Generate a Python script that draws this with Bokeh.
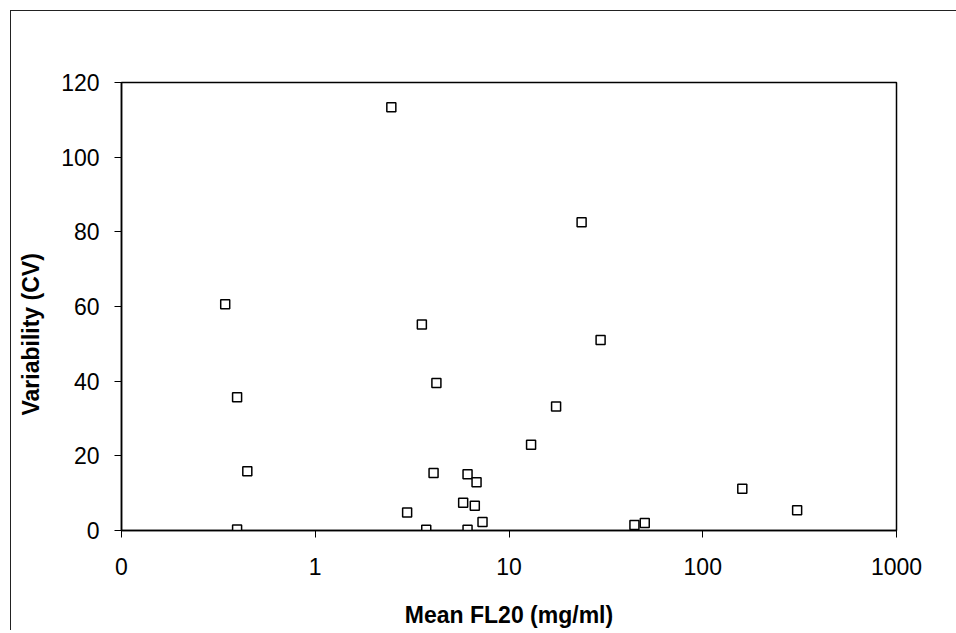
from bokeh.plotting import figure
from bokeh.models import FixedTicker, Title, ColumnDataSource
from bokeh.embed import file_html
from bokeh.resources import INLINE

# ---- data ----
mean_fl20 = [0.343, 0.395, 0.446, 0.395, 3.55, 29.7, 4.22, 17.5, 13.0, 4.08,
             6.11, 6.80, 5.80, 6.66, 2.98, 7.30, 3.74, 6.11, 2.47, 23.7,
             44.4, 50.2, 160.0, 307.0]
variability_cv = [60.6, 35.7, 15.9, 0.3, 55.2, 51.0, 39.5, 33.2, 23.0, 15.4,
                  15.1, 12.9, 7.4, 6.6, 4.8, 2.3, 0.2, 0.2, 113.4, 82.6,
                  1.5, 2.0, 11.2, 5.4]
x_ticks = [0.1, 1, 10, 100, 1000]
x_tick_labels = ["0", "1", "10", "100", "1000"]
y_ticks = [0, 20, 40, 60, 80, 100, 120]

FONT = "Liberation Sans"

source = ColumnDataSource(dict(x=mean_fl20, y=variability_cv))

p = figure(x_axis_type="log", x_range=(0.1, 1000), y_range=(0, 120),
           frame_width=775, frame_height=448,
           min_border_left=121, min_border_top=82, min_border_right=60, min_border_bottom=60,
           output_backend="svg", toolbar_location=None,
           background_fill_color="white", border_fill_color=None)
# outer chart-area border (left and top edges visible in the original)
p.styles = {
    "background-color": "white",
    "background-image": "linear-gradient(#222, #222), linear-gradient(#222, #222)",
    "background-size": "1px 100%, 100% 1px",
    "background-position": "10px 10px, 10px 10px",
    "background-repeat": "no-repeat",
}

p.scatter("x", "y", source=source, marker="square", size=9,
          fill_color="white", line_color="black", line_width=1.5)

p.xgrid.visible = False
p.ygrid.visible = False
p.outline_line_color = "black"
p.outline_line_width = 1.5
p.outline_line_alpha = 1

for ax in (p.xaxis[0], p.yaxis[0]):
    ax.axis_line_color = "black"
    ax.axis_line_width = 1.5
    ax.major_tick_line_color = "black"
    ax.major_tick_line_width = 1
    ax.major_tick_out = 7
    ax.major_tick_in = 0
    ax.minor_tick_line_color = None
    ax.major_label_text_font = FONT
    ax.major_label_text_font_size = "23px"
    ax.major_label_text_color = "black"

p.xaxis.ticker = FixedTicker(ticks=x_ticks)
p.xaxis.major_label_overrides = {t: lab for t, lab in zip(x_ticks, x_tick_labels)}
p.xaxis.major_label_standoff = 20
p.xaxis.axis_label = "Mean FL20 (mg/ml)"
p.xaxis.axis_label_text_font = FONT
p.xaxis.axis_label_text_font_size = "23px"
p.xaxis.axis_label_text_font_style = "bold"
p.xaxis.axis_label_text_color = "black"
p.xaxis.axis_label_standoff = 24

p.yaxis.ticker = FixedTicker(ticks=y_ticks)
p.yaxis.major_label_standoff = 15
p.yaxis.major_label_orientation = "horizontal"

# y-axis title, placed like the original (a little below the frame centre)
ytitle = Title(text="Variability (CV)", align="left", offset=115,
               vertical_align="top", standoff=25,
               text_font=FONT, text_font_size="23px", text_font_style="bold",
               text_color="black")
p.add_layout(ytitle, "left")

open("out.html", "w").write(file_html(p, INLINE))
